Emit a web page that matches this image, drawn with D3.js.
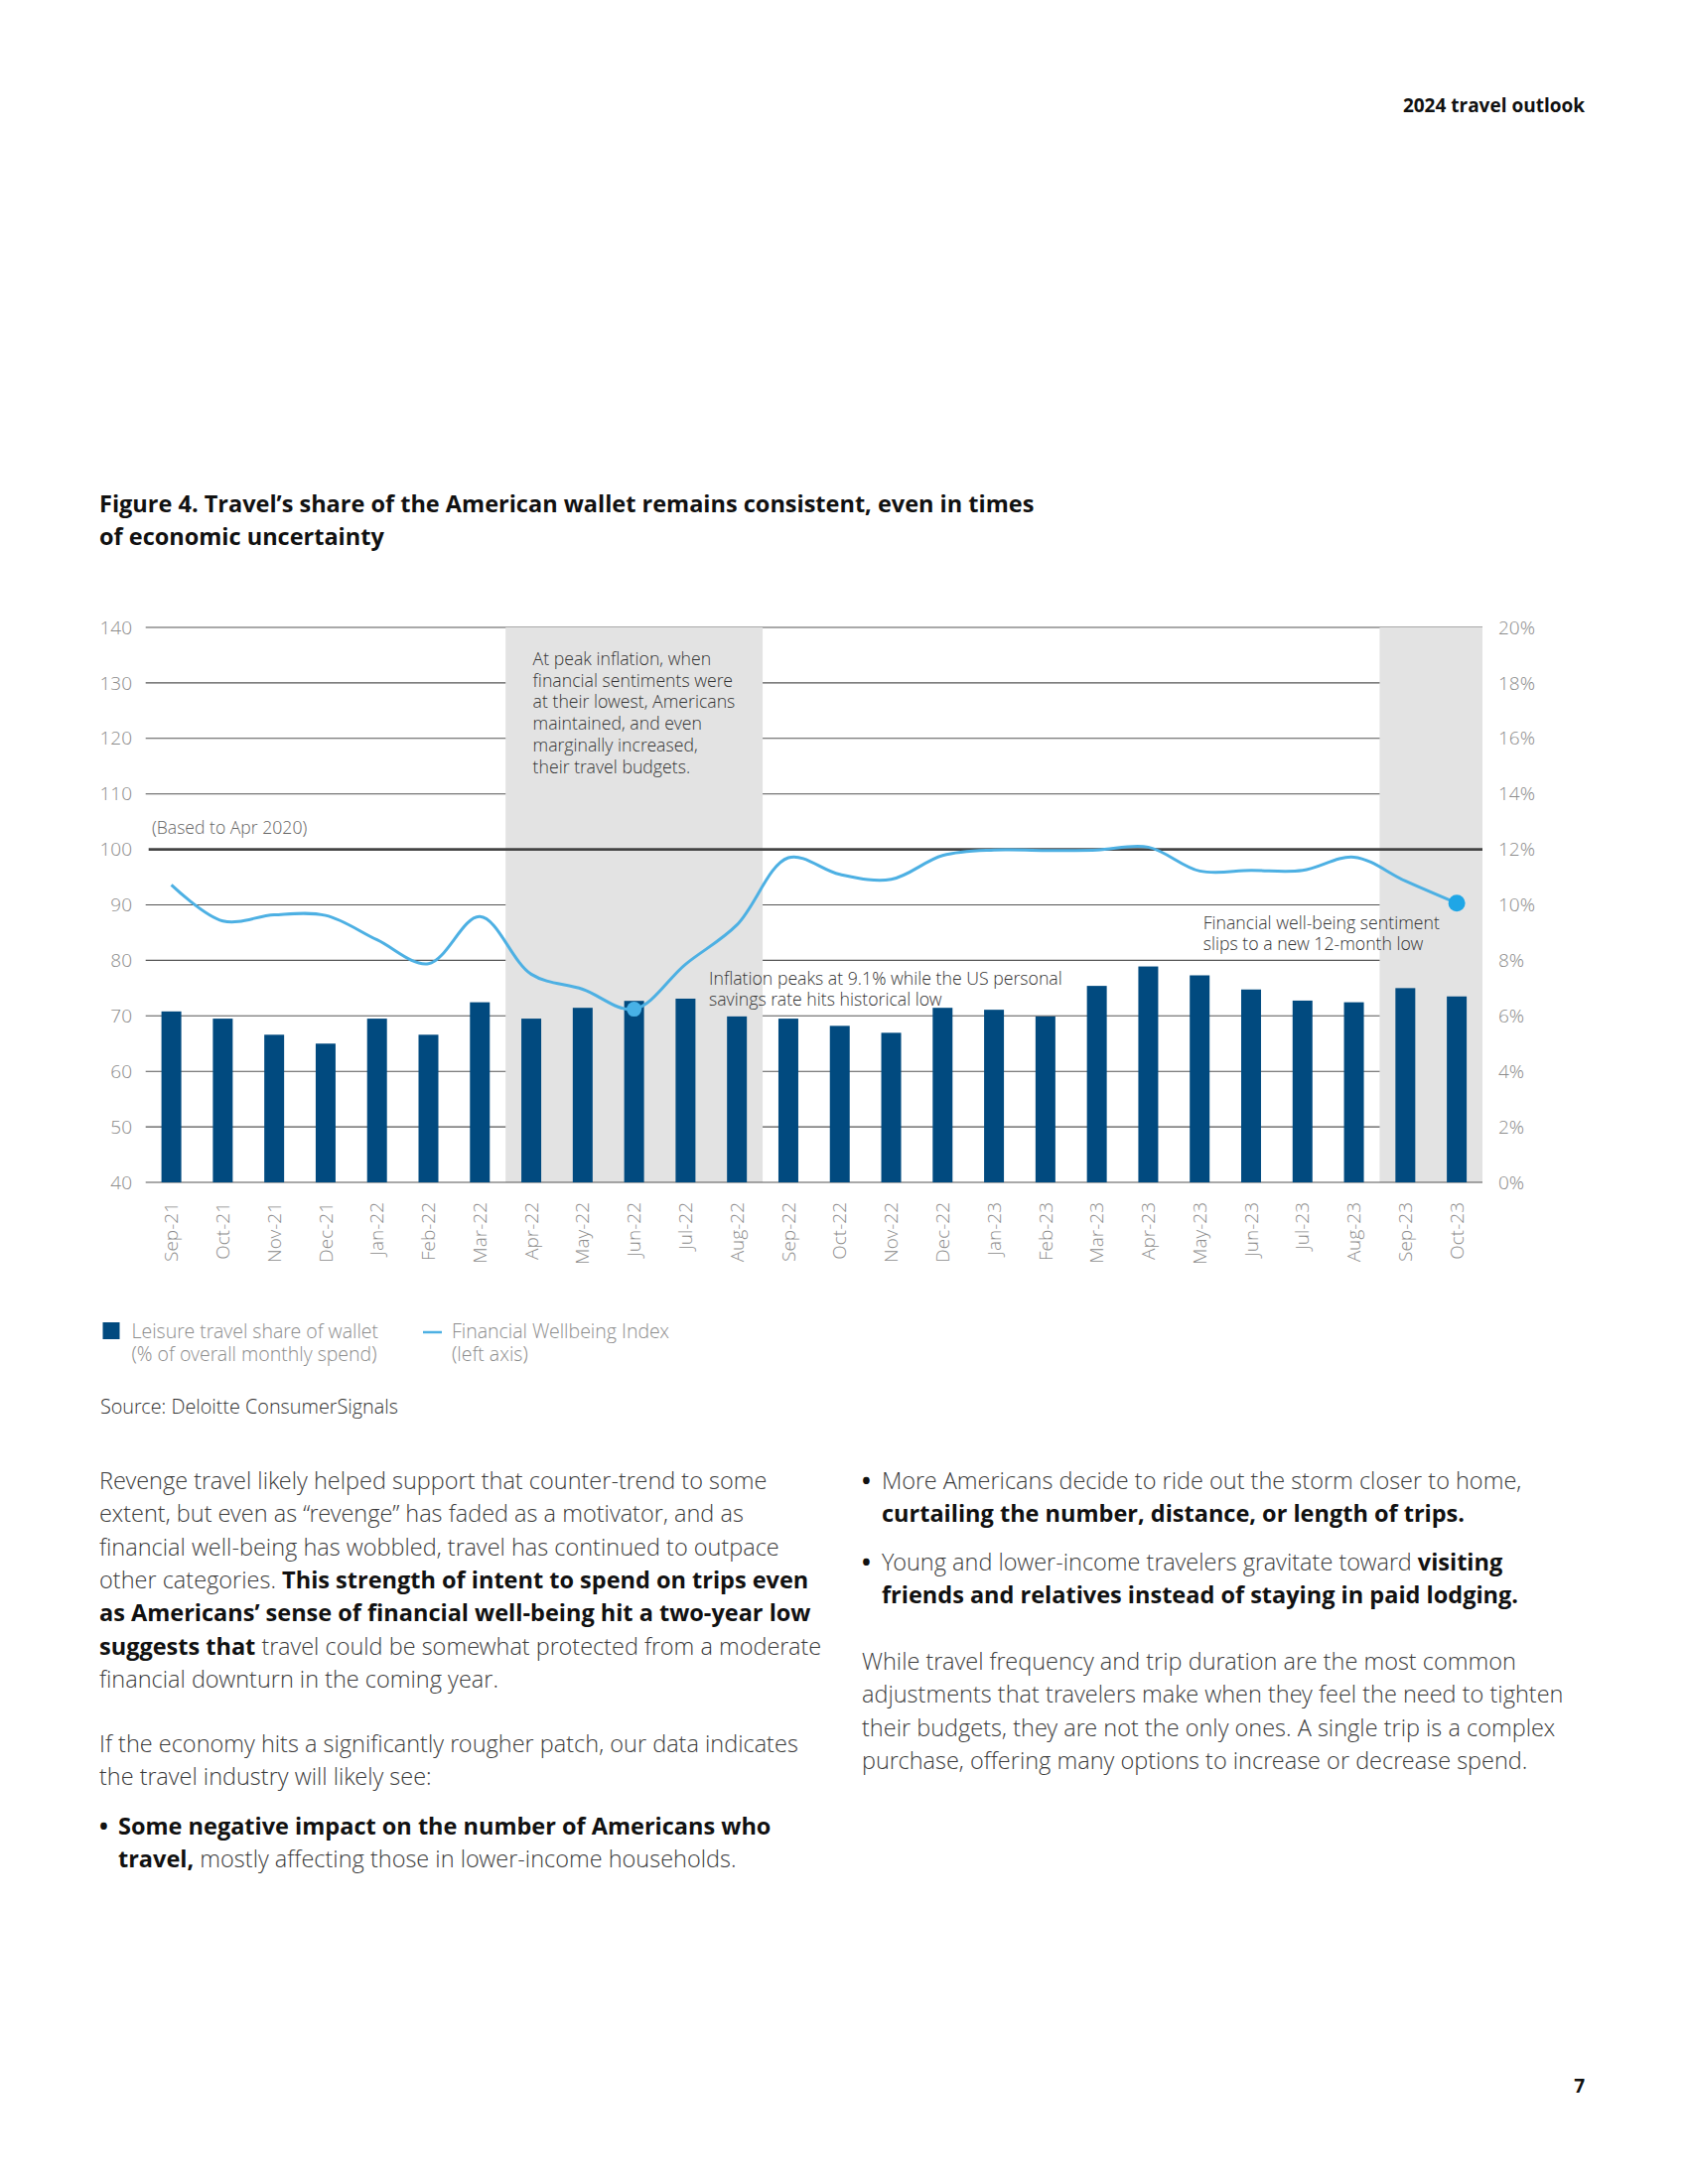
<!DOCTYPE html>
<html>
<head>
<meta charset="utf-8">
<script src="https://cdnjs.cloudflare.com/ajax/libs/d3/7.8.5/d3.min.js"></script>
<style>
  html, body { margin: 0; padding: 0; background: #fff; }
  svg { display: block; font-family: "Open Sans", "Noto Sans", sans-serif; }
  .light { font-family: "Open Sans Light", "Open Sans", "Noto Sans", sans-serif; font-weight: 300; }
</style>
</head>
<body>
<svg id="page" width="1700" height="2200"></svg>
<script>
// ---------------- DATA ----------------
const months = ["Sep-21","Oct-21","Nov-21","Dec-21","Jan-22","Feb-22","Mar-22","Apr-22","May-22","Jun-22","Jul-22","Aug-22","Sep-22","Oct-22","Nov-22","Dec-22","Jan-23","Feb-23","Mar-23","Apr-23","May-23","Jun-23","Jul-23","Aug-23","Sep-23","Oct-23"];
// Leisure travel share of wallet (% of overall monthly spend) - right axis
const shareOfWallet = [6.16, 5.9, 5.32, 5.0, 5.9, 5.32, 6.49, 5.9, 6.29, 6.54, 6.62, 5.98, 5.9, 5.64, 5.39, 6.29, 6.22, 5.98, 7.08, 7.78, 7.46, 6.95, 6.55, 6.49, 7.0, 6.7];
// Financial Wellbeing Index (left axis, based to Apr 2020 = 100)
const wellbeingIndex = [93.6, 87.1, 88.2, 88.1, 83.7, 79.4, 87.9, 77.5, 74.8, 71.2, 79.3, 86.4, 98.5, 95.5, 94.6, 98.9, 99.9, 99.8, 99.9, 100.4, 96.1, 96.2, 96.2, 98.6, 94.3, 90.3];
const leftTicks = [40, 50, 60, 70, 80, 90, 100, 110, 120, 130, 140];
const rightTicks = [0, 2, 4, 6, 8, 10, 12, 14, 16, 18, 20];
const rightTickLabels = ["0%","2%","4%","6%","8%","10%","12%","14%","16%","18%","20%"];
const shadedPeriods = [["Apr-22","Aug-22"], ["Sep-23","Oct-23"]];
const highlightedMonths = ["Jun-22", "Oct-23"];
const legendLabels = [["Leisure travel share of wallet", "(% of overall monthly spend)"], ["Financial Wellbeing Index", "(left axis)"]];
const annotationPeak = ["At peak inflation, when", "financial sentiments were", "at their lowest, Americans", "maintained, and even", "marginally increased,", "their travel budgets."];
const annotationInflation = ["Inflation peaks at 9.1% while the US personal", "savings rate hits historical low"];
const annotationSentiment = ["Financial well-being sentiment", "slips to a new 12-month low"];

// ---------------- LAYOUT ----------------
const svg = d3.select("#page");
const plotL = 146.7, plotR = 1493, plotT = 632, plotB = 1191;
const BLUE = "#014a7f", LINE = "#4db0e3", DOT = "#1fa6e6", GRID = "#555", SHADE = "#e3e3e3";
const TICKGREY = "#8c8c8c";

const x = d3.scaleBand().domain(months).range([plotL, plotR]).paddingInner(0.614).paddingOuter(0.307);
const yL = d3.scaleLinear().domain([40, 140]).range([plotB, plotT]);
const yR = d3.scaleLinear().domain([0, 20]).range([plotB, plotT]);
const step = x.step();
const bandStart = m => x(m) - step * x.paddingInner() / 2;
const cx = m => x(m) + x.bandwidth() / 2;

// Header
svg.append("text").attr("x", 1596).attr("y", 113).attr("text-anchor", "end")
  .attr("font-size", 19).attr("font-weight", 700).attr("fill", "#111").text("2024 travel outlook");

// Title
const title = ["Figure 4. Travel\u2019s share of the American wallet remains consistent, even in times", "of economic uncertainty"];
svg.append("g").selectAll("text").data(title).join("text")
  .attr("x", 100).attr("y", (d, i) => 516 + i * 33)
  .attr("font-size", 23.5).attr("font-weight", 700).attr("fill", "#111").text(d => d);

// Grid lines (thin), excluding 100
const g = svg.append("g");
g.append("g").selectAll("line").data(leftTicks.filter(t => t !== 100 && t !== 40)).join("line")
  .attr("x1", plotL).attr("x2", plotR)
  .attr("y1", d => yL(d)).attr("y2", d => yL(d))
  .attr("stroke", GRID).attr("stroke-width", 1.1);

// Shaded periods
g.append("g").selectAll("rect").data(shadedPeriods).join("rect")
  .attr("x", d => bandStart(d[0]))
  .attr("width", d => bandStart(d[1]) + step - bandStart(d[0]))
  .attr("y", plotT).attr("height", plotB - plotT)
  .attr("fill", SHADE);

// 100 reference line and baseline
g.append("line").attr("x1", plotL + 3).attr("x2", plotR).attr("y1", yL(100)).attr("y2", yL(100))
  .attr("stroke", "#444").attr("stroke-width", 2.6);
g.append("line").attr("x1", plotL).attr("x2", plotR).attr("y1", yL(40)).attr("y2", yL(40))
  .attr("stroke", GRID).attr("stroke-width", 1.2);

// Left axis labels
g.append("g").selectAll("text").data(leftTicks).join("text").attr("class", "light")
  .attr("x", 133).attr("y", d => yL(d)).attr("dy", "0.35em").attr("text-anchor", "end")
  .attr("font-size", 19).attr("fill", TICKGREY).text(d => d);

// Right axis labels
g.append("g").selectAll("text").data(rightTicks).join("text").attr("class", "light")
  .attr("x", 1509).attr("y", d => yR(d)).attr("dy", "0.35em").attr("text-anchor", "start")
  .attr("font-size", 19).attr("fill", TICKGREY).text((d, i) => rightTickLabels[i]);

// Bars
g.append("g").selectAll("rect").data(months).join("rect")
  .attr("x", d => x(d)).attr("width", x.bandwidth())
  .attr("y", (d, i) => yR(shareOfWallet[i]))
  .attr("height", (d, i) => yR(0) - yR(shareOfWallet[i]))
  .attr("fill", BLUE);

// Line
const lineGen = d3.line().x((d, i) => cx(months[i])).y(d => yL(d)).curve(d3.curveCatmullRom.alpha(0.5));
g.append("path").datum(wellbeingIndex).attr("d", lineGen)
  .attr("fill", "none").attr("stroke", LINE).attr("stroke-width", 3);

// Highlight dots
g.append("g").selectAll("circle").data(highlightedMonths).join("circle")
  .attr("cx", d => cx(d)).attr("cy", d => yL(wellbeingIndex[months.indexOf(d)]))
  .attr("r", (d, i) => i === 0 ? 7.5 : 8.5)
  .attr("fill", (d, i) => i === 0 ? "#48b1e6" : DOT);

// X axis labels (rotated)
g.append("g").selectAll("text").data(months).join("text").attr("class", "light")
  .attr("transform", d => `translate(${cx(d)},1211) rotate(-90)`)
  .attr("dy", "0.35em").attr("text-anchor", "end")
  .attr("font-size", 19).attr("fill", TICKGREY).text(d => d);

// "(Based to Apr 2020)"
g.append("text").attr("class", "light").attr("x", 153).attr("y", 840).attr("font-size", 17.6)
  .attr("fill", "#666").text("(Based to Apr 2020)");

// Annotations
function multiline(lines, x0, y0, lh) {
  g.append("g").selectAll("text").data(lines).join("text").attr("class", "light")
    .attr("x", x0).attr("y", (d, i) => y0 + i * lh)
    .attr("font-size", 17.7).attr("fill", "#333").text(d => d);
}
multiline(annotationPeak, 536.6, 670, 21.7);
multiline(annotationInflation, 714, 992, 20.8);
multiline(annotationSentiment, 1211.7, 936, 20.8);

// Legend
const leg = svg.append("g");
leg.append("rect").attr("x", 103.5).attr("y", 1332).attr("width", 17).attr("height", 17).attr("fill", BLUE);
leg.append("line").attr("x1", 426).attr("x2", 445).attr("y1", 1342).attr("y2", 1342).attr("stroke", LINE).attr("stroke-width", 2.5);
[[132.5, legendLabels[0]], [455, legendLabels[1]]].forEach(([lx, lines]) => {
  leg.append("g").selectAll("text").data(lines).join("text").attr("class", "light")
    .attr("x", lx).attr("y", (d, i) => 1348 + i * 23)
    .attr("font-size", 19.5).attr("fill", TICKGREY).text(d => d);
});

// Source
svg.append("text").attr("class", "light").attr("x", 101).attr("y", 1424).attr("font-size", 19.8)
  .attr("fill", "#333").text("Source: Deloitte ConsumerSignals");

// ---------------- BODY TEXT ----------------
const BODY = "#3a3a3a";
function richLines(lines, x0, y0, lh) {
  lines.forEach((segs, i) => {
    const t = svg.append("text").attr("x", x0).attr("y", y0 + i * lh)
      .attr("font-size", 23.5).attr("fill", BODY);
    segs.forEach(([s, b]) => {
      const ts = t.append("tspan").attr("fill", b ? "#111" : BODY).text(s);
      if (b) ts.attr("font-weight", 700); else ts.attr("class", "light");
    });
  });
}
const LH = 33.3;
const OFF = 5;
richLines([
  [["Revenge travel likely helped support that counter-trend to some", 0]],
  [["extent, but even as \u201crevenge\u201d has faded as a motivator, and as", 0]],
  [["financial well-being has wobbled, travel has continued to outpace", 0]],
  [["other categories. ", 0], ["This strength of intent to spend on trips even", 1]],
  [["as Americans\u2019 sense of financial well-being hit a two-year low", 1]],
  [["suggests that", 1], [" travel could be somewhat protected from a moderate", 0]],
  [["financial downturn in the coming year.", 0]]
], 100, 1495 + OFF, LH);
richLines([
  [["If the economy hits a significantly rougher patch, our data indicates", 0]],
  [["the travel industry will likely see:", 0]]
], 100, 1760 + OFF, LH);
// bullets
function bullet(xb, y) {
  svg.append("text").attr("x", xb).attr("y", y).attr("font-size", 23.5).attr("font-weight", 700).attr("fill", "#111").text("\u2022");
}
bullet(100, 1843 + OFF);
richLines([
  [["Some negative impact on the number of Americans who", 1]],
  [["travel,", 1], [" mostly affecting those in lower-income households.", 0]]
], 119, 1843 + OFF, LH);

bullet(868, 1495 + OFF);
richLines([
  [["More Americans decide to ride out the storm closer to home,", 0]],
  [["curtailing the number, distance, or length of trips.", 1]]
], 888, 1495 + OFF, LH);
bullet(868, 1577 + OFF);
richLines([
  [["Young and lower-income travelers gravitate toward ", 0], ["visiting", 1]],
  [["friends and relatives instead of staying in paid lodging.", 1]]
], 888, 1577 + OFF, LH);
richLines([
  [["While travel frequency and trip duration are the most common", 0]],
  [["adjustments that travelers make when they feel the need to tighten", 0]],
  [["their budgets, they are not the only ones. A single trip is a complex", 0]],
  [["purchase, offering many options to increase or decrease spend.", 0]]
], 868, 1676 + OFF + 1, LH);

// Page number
svg.append("text").attr("x", 1596).attr("y", 2108).attr("text-anchor", "end")
  .attr("font-size", 19).attr("font-weight", 700).attr("fill", "#111").text("7");
</script>
</body>
</html>
